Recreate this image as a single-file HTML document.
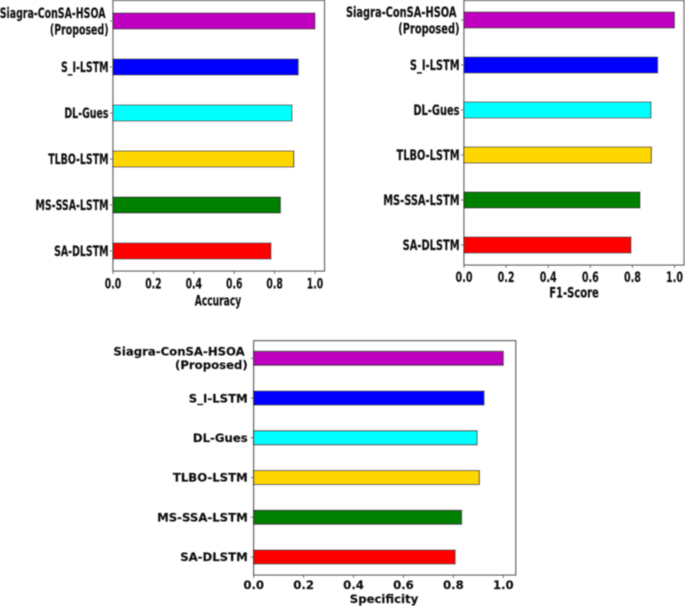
<!DOCTYPE html>
<html>
<head>
<meta charset="utf-8">
<style>
html,body{margin:0;padding:0;background:#fff;width:685px;height:606px;overflow:hidden}
svg{display:block;position:absolute;left:0;top:0}
text{font-family:"DejaVu Sans","Liberation Sans",sans-serif;font-weight:bold;fill:#111;stroke:#111;stroke-width:0.15}
</style>
</head>
<body>
<svg id="root" width="685" height="606" viewBox="0 0 685 606" xmlns="http://www.w3.org/2000/svg">
<defs><filter id="soft" x="-5%" y="-5%" width="110%" height="110%"><feGaussianBlur stdDeviation="0.45"/></filter></defs>
<g id="plots" filter="url(#soft)"></g>
</svg>
<script>
const categories = ["Siagra-ConSA-HSOA|(Proposed)", "S_I-LSTM", "DL-Gues", "TLBO-LSTM", "MS-SSA-LSTM", "SA-DLSTM"];
const barColors = ["#bf00bf", "#0000ff", "#00ffff", "#ffd700", "#008000", "#ff0000"];
const accuracyValues = [1.0, 0.917, 0.886, 0.895, 0.829, 0.782];
const f1ScoreValues = [1.0, 0.92, 0.888, 0.89, 0.836, 0.793];
const specificityValues = [1.0, 0.923, 0.895, 0.904, 0.833, 0.807];
const tickValues = [0, 0.2, 0.4, 0.6, 0.8, 1.0];
const tickLabels = ["0.0", "0.2", "0.4", "0.6", "0.8", "1.0"];

const NS = "http://www.w3.org/2000/svg";
const plots = document.getElementById("plots");

function make(parent, tag, attrs) {
  const el = document.createElementNS(NS, tag);
  for (const k in attrs) el.setAttribute(k, attrs[k]);
  parent.appendChild(el);
  return el;
}

function drawText(parent, str, x, y, size, sx, anchor) {
  const t = make(parent, "text", {
    transform: "translate(" + x + "," + y + ") scale(" + sx + ",1)",
    "font-size": size,
    "text-anchor": anchor
  });
  t.textContent = str;
  return t;
}

function drawChart(name, values, title, c) {
  const xScale = v => c.x0 + v * (c.x1 - c.x0);
  const rowStep = (c.lastY - c.firstY) / (categories.length - 1);
  const yScale = i => c.firstY + i * rowStep;

  const g = make(plots, "g", {});
  
  

  const frame = make(g, "rect", {
    x: c.x0, y: c.top, width: c.right - c.x0, height: c.bottom - c.top,
    fill: "#fff", stroke: "#555", "stroke-width": 1.2
  });
  
  

  categories.forEach((cat, i) => {
    const cy = yScale(i);
    const bar = make(g, "rect", {
      x: c.x0, y: cy - c.barH / 2, width: xScale(values[i]) - c.x0, height: c.barH,
      fill: barColors[i], stroke: "#222", "stroke-width": 1
    });
    
    

    const tick = make(g, "line", { x1: c.x0 - 3, x2: c.x0, y1: cy, y2: cy, stroke: "#555", "stroke-width": 0.8 });
    
    

    const lines = cat.split("|");
    if (lines.length === 2) {
      const a = drawText(g, lines[0], c.x0 - c.labelGap - 3, cy - 3, c.labelSize, c.labelSx, "end");
      
      
      const b = drawText(g, lines[1], c.x0 - c.labelGap, cy + c.labelSize - 1, c.labelSize, c.labelSx, "end");
      
      
    } else {
      const a = drawText(g, cat, c.x0 - c.labelGap, cy + c.labelSize * 0.36, c.labelSize, c.labelSx, "end");
      
      
    }
  });

  tickValues.forEach((v, i) => {
    const px = xScale(v);
    const tick = make(g, "line", { x1: px, x2: px, y1: c.bottom, y2: c.bottom + 3, stroke: "#555", "stroke-width": 0.8 });
    
    
    const label = drawText(g, tickLabels[i], px, c.tickBase, c.tickSize, c.tickSx, "middle");
    
    
  });

  const axisTitle = drawText(g, title, c.titleX, c.titleBase, c.titleSize, c.titleSx, "middle");
  
  
}

drawChart("accuracy-chart", accuracyValues, "Accuracy", {
  x0: 113, x1: 315, right: 324.5, top: 0.5, bottom: 271, firstY: 21, lastY: 251, barH: 16,
  labelGap: 4.5, labelSize: 14.5, labelSx: 0.65, tickSize: 14.5, tickSx: 0.64, tickBase: 288.5,
  titleX: 218, titleBase: 305.5, titleSize: 14.5, titleSx: 0.63
});
drawChart("f1-score-chart", f1ScoreValues, "F1-Score", {
  x0: 464, x1: 674.5, right: 684, top: 0.5, bottom: 265, firstY: 20, lastY: 245, barH: 16,
  labelGap: 4.5, labelSize: 14.5, labelSx: 0.68, tickSize: 14.5, tickSx: 0.66, tickBase: 282,
  titleX: 574, titleBase: 297.5, titleSize: 14.5, titleSx: 0.69
});
drawChart("specificity-chart", specificityValues, "Specificity", {
  x0: 253.7, x1: 503.3, right: 515.7, top: 340.7, bottom: 575, firstY: 358.3, lastY: 557, barH: 14,
  labelGap: 6, labelSize: 11.7, labelSx: 1, tickSize: 11.7, tickSx: 1, tickBase: 589,
  titleX: 384, titleBase: 603, titleSize: 11.7, titleSx: 1
});
</script>
</body>
</html>
